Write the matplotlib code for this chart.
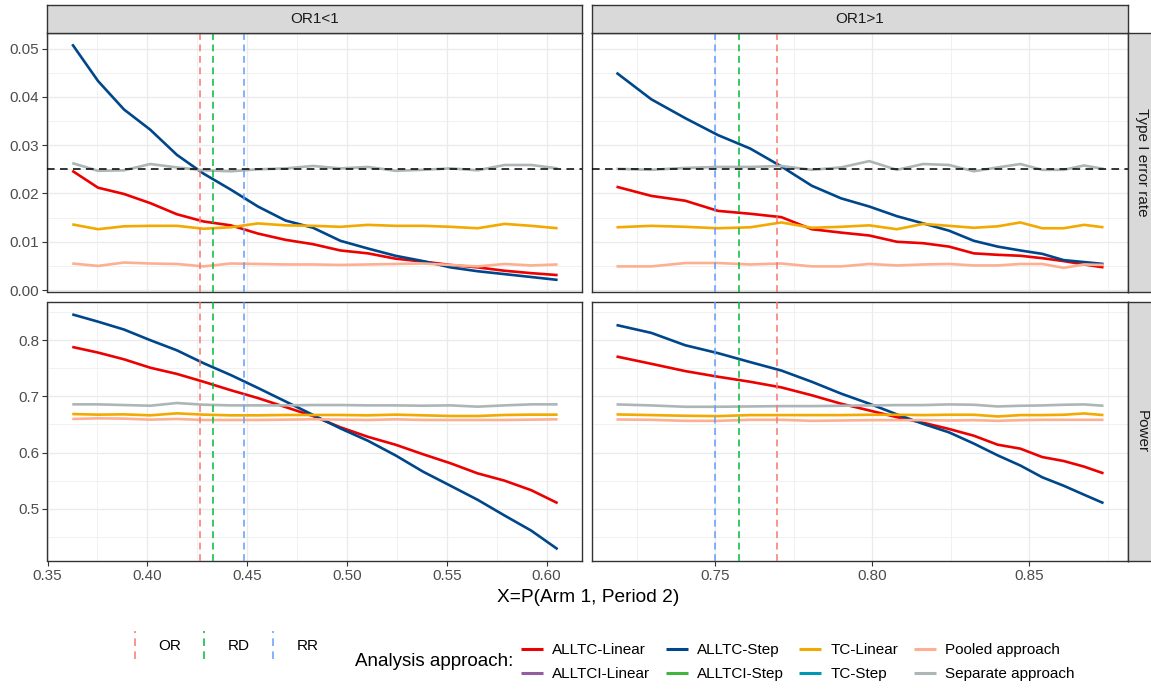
import matplotlib
matplotlib.use("Agg")
import matplotlib.pyplot as plt
from matplotlib.lines import Line2D
from matplotlib.legend_handler import HandlerBase

plt.rcParams['font.family'] = ['Liberation Sans', 'DejaVu Sans']

# x = P(Arm 1, Period 2) for each facet column
x_or_lt = [0.3624, 0.3753, 0.3883, 0.4015, 0.4148, 0.4282, 0.4418, 0.4554,
           0.4692, 0.4830, 0.4967, 0.5105, 0.5243, 0.5381, 0.5518, 0.5654,
           0.5789, 0.5923, 0.6055]
x_or_gt = [0.7186, 0.7297, 0.7405, 0.7509, 0.7612, 0.7711, 0.7808, 0.7901,
           0.7991, 0.8079, 0.8163, 0.8245, 0.8324, 0.8400, 0.8472, 0.8542,
           0.8610, 0.8675, 0.8737]

# Type I error rate, OR1<1
t1_lt_alltc_lin = [0.0247, 0.0212, 0.0199, 0.0180, 0.0157, 0.0142, 0.0134, 0.0117, 0.0104, 0.0095,
                   0.0082, 0.0076, 0.0065, 0.0059, 0.0052, 0.0047, 0.0040, 0.0035, 0.0031]
t1_lt_alltc_step = [0.0509, 0.0433, 0.0374, 0.0332, 0.0280, 0.0241, 0.0208, 0.0173, 0.0144, 0.0129,
                    0.0102, 0.0086, 0.0071, 0.0060, 0.0047, 0.0039, 0.0033, 0.0027, 0.0021]
t1_lt_tc_lin = [0.0136, 0.0126, 0.0132, 0.0133, 0.0133, 0.0127, 0.0130, 0.0138, 0.0134, 0.0133,
                0.0131, 0.0135, 0.0133, 0.0133, 0.0131, 0.0128, 0.0137, 0.0133, 0.0128]
t1_lt_pooled = [0.0055, 0.0050, 0.0057, 0.0055, 0.0054, 0.0049, 0.0055, 0.0054, 0.0053, 0.0053,
                0.0052, 0.0053, 0.0054, 0.0055, 0.0052, 0.0049, 0.0054, 0.0051, 0.0053]
t1_lt_separate = [0.0263, 0.0247, 0.0248, 0.0261, 0.0254, 0.0248, 0.0246, 0.0250, 0.0252, 0.0257,
                  0.0252, 0.0255, 0.0247, 0.0249, 0.0252, 0.0248, 0.0259, 0.0259, 0.0252]

# Type I error rate, OR1>1
t1_gt_alltc_lin = [0.0214, 0.0195, 0.0185, 0.0164, 0.0158, 0.0151, 0.0126, 0.0119, 0.0113, 0.0100,
                   0.0097, 0.0090, 0.0076, 0.0073, 0.0071, 0.0066, 0.0060, 0.0053, 0.0047]
t1_gt_alltc_step = [0.0450, 0.0395, 0.0356, 0.0321, 0.0293, 0.0256, 0.0216, 0.0190, 0.0173, 0.0153,
                    0.0138, 0.0123, 0.0102, 0.0090, 0.0082, 0.0075, 0.0062, 0.0058, 0.0054]
t1_gt_tc_lin = [0.0130, 0.0133, 0.0131, 0.0128, 0.0130, 0.0140, 0.0129, 0.0131, 0.0134, 0.0126,
                0.0137, 0.0133, 0.0129, 0.0132, 0.0140, 0.0128, 0.0128, 0.0135, 0.0130]
t1_gt_pooled = [0.0049, 0.0049, 0.0056, 0.0056, 0.0053, 0.0055, 0.0049, 0.0049, 0.0054, 0.0051,
                0.0053, 0.0054, 0.0051, 0.0051, 0.0054, 0.0054, 0.0046, 0.0053, 0.0052]
t1_gt_separate = [0.0251, 0.0249, 0.0253, 0.0255, 0.0255, 0.0257, 0.0249, 0.0254, 0.0267, 0.0249,
                  0.0261, 0.0259, 0.0246, 0.0254, 0.0261, 0.0249, 0.0249, 0.0258, 0.0251]

# Power, OR1<1
pw_lt_alltc_lin = [0.788, 0.778, 0.766, 0.751, 0.740, 0.726, 0.711, 0.697, 0.681, 0.665,
                   0.645, 0.628, 0.614, 0.597, 0.581, 0.563, 0.550, 0.533, 0.510]
pw_lt_alltc_step = [0.846, 0.833, 0.819, 0.800, 0.782, 0.759, 0.738, 0.715, 0.691, 0.667,
                    0.643, 0.621, 0.595, 0.566, 0.541, 0.516, 0.488, 0.461, 0.428]
pw_lt_tc_lin = [0.6686, 0.6675, 0.6680, 0.6663, 0.6698, 0.6675, 0.6663, 0.6663, 0.6669, 0.6669,
                0.6669, 0.6663, 0.6675, 0.6663, 0.6651, 0.6651, 0.6669, 0.6675, 0.6675]
pw_lt_pooled = [0.6598, 0.6609, 0.6604, 0.6586, 0.6598, 0.6580, 0.6580, 0.6580, 0.6586, 0.6592,
                0.6586, 0.6580, 0.6592, 0.6580, 0.6580, 0.6580, 0.6580, 0.6586, 0.6592]
pw_lt_separate = [0.6858, 0.6858, 0.6846, 0.6834, 0.6882, 0.6852, 0.6840, 0.6840, 0.6840, 0.6846,
                  0.6846, 0.6840, 0.6840, 0.6834, 0.6840, 0.6817, 0.6840, 0.6858, 0.6858]

# Power, OR1>1
pw_gt_alltc_lin = [0.771, 0.758, 0.745, 0.735, 0.726, 0.716, 0.702, 0.687, 0.675, 0.663,
                   0.653, 0.642, 0.630, 0.614, 0.607, 0.592, 0.585, 0.575, 0.563]
pw_gt_alltc_step = [0.827, 0.813, 0.791, 0.777, 0.761, 0.746, 0.726, 0.705, 0.687, 0.668,
                    0.651, 0.636, 0.616, 0.595, 0.577, 0.556, 0.541, 0.525, 0.510]
pw_gt_tc_lin = [0.6679, 0.6667, 0.6655, 0.6649, 0.6667, 0.6667, 0.6667, 0.6667, 0.6673, 0.6673,
                0.6667, 0.6673, 0.6673, 0.6643, 0.6667, 0.6667, 0.6673, 0.6696, 0.6667]
pw_gt_pooled = [0.6589, 0.6583, 0.6565, 0.6565, 0.6583, 0.6583, 0.6565, 0.6571, 0.6577, 0.6577,
                0.6577, 0.6571, 0.6577, 0.6565, 0.6577, 0.6583, 0.6583, 0.6583, 0.6583]
pw_gt_separate = [0.6857, 0.6839, 0.6815, 0.6815, 0.6821, 0.6827, 0.6827, 0.6833, 0.6839, 0.6845,
                  0.6845, 0.6857, 0.6851, 0.6821, 0.6833, 0.6839, 0.6851, 0.6857, 0.6833]

# reference lines (OR, RD, RR) per column
ref_labels = ["OR", "RD", "RR"]
ref_lt = [0.4264, 0.4330, 0.4486]
ref_gt = [0.7697, 0.7576, 0.7500]
alpha_level = 0.025

approaches = ["ALLTC-Linear", "ALLTCI-Linear", "ALLTC-Step", "ALLTCI-Step",
              "TC-Linear", "TC-Step", "Pooled approach", "Separate approach"]
col_titles = ["OR1<1", "OR1>1"]
row_titles = ["Type I error rate", "Power"]

COLORS = {"ALLTC-Linear": "#ED0000", "ALLTCI-Linear": "#925E9F",
          "ALLTC-Step": "#00468B", "ALLTCI-Step": "#42B540",
          "TC-Linear": "#F2A900", "TC-Step": "#0099B4",
          "Pooled approach": "#FDAF91", "Separate approach": "#ADB6B6"}
REF_COLORS = ["#F8766D", "#00BA38", "#619CFF"]


class HandlerVLine(HandlerBase):
    '''Draw a legend key as a short vertical dashed line (ggplot vline glyph).'''
    def create_artists(self, legend, orig_handle, xdescent, ydescent,
                       width, height, fontsize, trans):
        xc = width / 2 - xdescent
        yc = height / 2 - ydescent
        line = Line2D([xc, xc], [yc - 10, yc + 10],
                      color=orig_handle.get_color(),
                      lw=orig_handle.get_linewidth(),
                      linestyle=(0, (5, 3.5)))
        line.set_transform(trans)
        return [line]


def px(x0, y0, x1, y1, W=1151, H=689):
    '''Pixel box (top-left origin) to figure fraction rect.'''
    return [x0 / W, 1 - y1 / H, (x1 - x0) / W, (y1 - y0) / H]


def style_panel(ax):
    ax.set_facecolor("white")
    ax.grid(which="major", color="#EBEBEB", lw=0.95)
    ax.grid(which="minor", color="#EBEBEB", lw=0.48)
    ax.set_axisbelow(True)
    for s in ax.spines.values():
        s.set_color("#333333")
        s.set_linewidth(1.0)
    ax.tick_params(which="major", direction="out", length=3.4, width=0.8,
                   color="#333333", labelcolor="#4D4D4D", labelsize=11, pad=2.5)
    ax.tick_params(which="minor", length=0)


def main():
    fig = plt.figure(figsize=(11.51, 6.89), dpi=100)

    xs = [x_or_lt, x_or_gt]
    refs = [ref_lt, ref_gt]
    series = [
        [[t1_lt_alltc_lin, t1_lt_alltc_step, t1_lt_tc_lin, t1_lt_pooled, t1_lt_separate],
         [t1_gt_alltc_lin, t1_gt_alltc_step, t1_gt_tc_lin, t1_gt_pooled, t1_gt_separate]],
        [[pw_lt_alltc_lin, pw_lt_alltc_step, pw_lt_tc_lin, pw_lt_pooled, pw_lt_separate],
         [pw_gt_alltc_lin, pw_gt_alltc_step, pw_gt_tc_lin, pw_gt_pooled, pw_gt_separate]],
    ]
    drawn = ["ALLTC-Linear", "ALLTC-Step", "TC-Linear", "Pooled approach", "Separate approach"]

    col_px = [(47.5, 582.0), (592.0, 1128.0)]
    row_px = [(32.5, 291.7), (302.0, 561.0)]
    xlims = [(0.3502, 0.6177), (0.7108, 0.8815)]
    ylims = [(-0.00034, 0.05334), (0.407, 0.868)]

    for r in range(2):
        for c in range(2):
            ax = fig.add_axes(px(col_px[c][0], row_px[r][0], col_px[c][1], row_px[r][1]))
            style_panel(ax)
            x = xs[c]
            for name, y in zip(drawn, series[r][c]):
                ax.plot(x, y, color=COLORS[name], lw=1.9, solid_capstyle="butt", zorder=2)
            for v, col in zip(refs[c], REF_COLORS):
                ax.axvline(v, color=col, lw=1.1, linestyle=(0, (4.5, 3)), zorder=3)
            if r == 0:
                ax.axhline(alpha_level, color="black", lw=1.1, linestyle=(0, (5, 3.5)), zorder=4)
            ax.set_xlim(*xlims[c])
            ax.set_ylim(*ylims[r])

            if c == 0:
                ax.set_xticks([0.35, 0.40, 0.45, 0.50, 0.55, 0.60])
                ax.set_xticks([0.375, 0.425, 0.475, 0.525, 0.575], minor=True)
            else:
                ax.set_xticks([0.75, 0.80, 0.85])
                ax.set_xticks([0.725, 0.775, 0.825, 0.875], minor=True)
            if r == 0:
                ax.set_yticks([0.00, 0.01, 0.02, 0.03, 0.04, 0.05])
                ax.set_yticks([0.005, 0.015, 0.025, 0.035, 0.045], minor=True)
                ax.set_yticklabels(["0.00", "0.01", "0.02", "0.03", "0.04", "0.05"])
                ax.tick_params(axis="x", which="major", length=0, labelbottom=False)
            else:
                ax.set_yticks([0.5, 0.6, 0.7, 0.8])
                ax.set_yticks([0.45, 0.55, 0.65, 0.75, 0.85], minor=True)
                ax.set_yticklabels(["0.5", "0.6", "0.7", "0.8"])
                ax.set_xticklabels([f"{t:.2f}" for t in ax.get_xticks()])
            if c == 1:
                ax.tick_params(axis="y", which="major", length=0, labelleft=False)

    # strips
    for c in range(2):
        sax = fig.add_axes(px(col_px[c][0], 5.0, col_px[c][1], 32.5))
        sax.set_facecolor("#D9D9D9")
        sax.set_xticks([])
        sax.set_yticks([])
        for s in sax.spines.values():
            s.set_color("#333333")
            s.set_linewidth(1.0)
        sax.text(0.5, 0.5, col_titles[c], ha="center", va="center",
                 fontsize=11, color="#1A1A1A", transform=sax.transAxes)
    for r in range(2):
        sax = fig.add_axes(px(1128.0, row_px[r][0], 1156.0, row_px[r][1]))
        sax.set_facecolor("#D9D9D9")
        sax.set_xticks([])
        sax.set_yticks([])
        for s in sax.spines.values():
            s.set_color("#333333")
            s.set_linewidth(1.0)
        sax.text(0.5, 0.5, row_titles[r], ha="center", va="center", rotation=-90,
                 fontsize=11, color="#1A1A1A", transform=sax.transAxes)

    fig.text(587.7 / 1151, 1 - 597 / 689, "X=P(Arm 1, Period 2)",
             ha="center", va="center", fontsize=13.75)

    # linetype legend
    ref_handles = [Line2D([], [], color=col, lw=1.1) for col in REF_COLORS]
    fig.legend(ref_handles, ref_labels, handler_map={Line2D: HandlerVLine()},
               ncol=3, loc="center left", bbox_to_anchor=(124 / 1151, 1 - 646 / 689),
               frameon=False, fontsize=11, handlelength=1.4, handletextpad=0.85,
               columnspacing=0.8, borderpad=0, borderaxespad=0)

    # approach legend
    fig.text(355 / 1151, 1 - 662 / 689, "Analysis approach:", ha="left", va="center",
             fontsize=13.5)
    app_handles = [Line2D([], [], color=COLORS[a], lw=2.2, solid_capstyle="butt")
                   for a in approaches]
    fig.legend(app_handles, approaches, ncol=4, loc="center left",
               bbox_to_anchor=(521 / 1151, 1 - 662 / 689), frameon=False, fontsize=11,
               handlelength=1.45, handletextpad=0.6, columnspacing=1.0,
               labelspacing=0.65, borderpad=0, borderaxespad=0)

    fig.savefig("out.png", dpi=100)


if __name__ == "__main__":
    main()
